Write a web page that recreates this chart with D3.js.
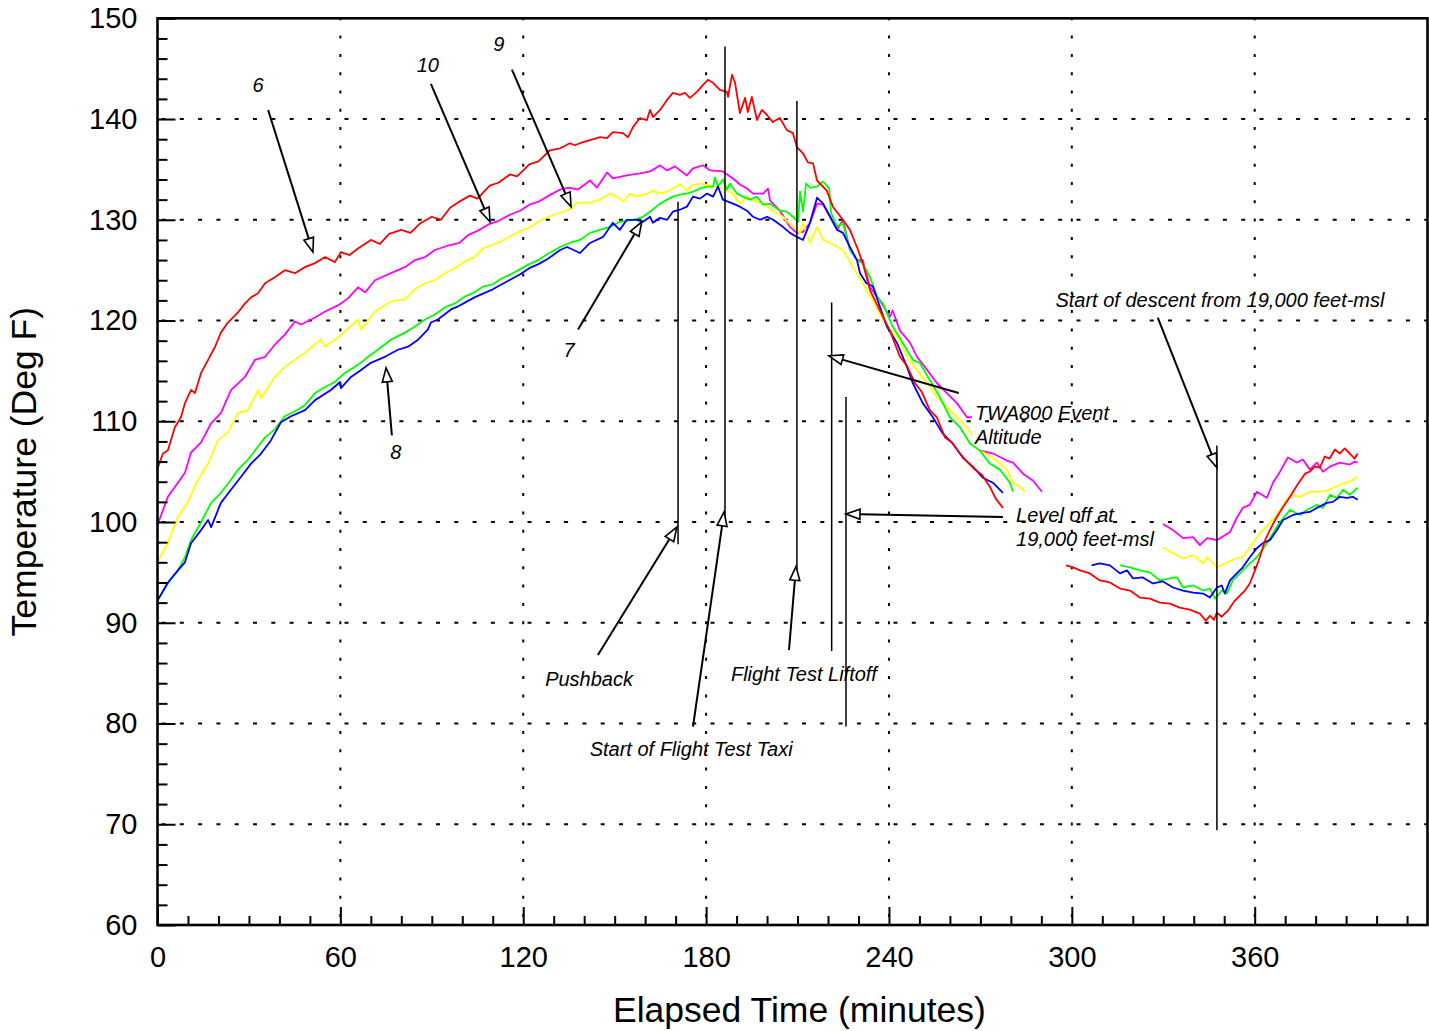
<!DOCTYPE html>
<html><head><meta charset="utf-8">
<script src="https://cdn.jsdelivr.net/npm/d3@7"></script>
<style>
body{margin:0;background:#fff}
svg{display:block}
text{font-family:Arial,"Liberation Sans",Helvetica,sans-serif}
</style>
</head><body>
<svg id="chart" width="1429" height="1031"></svg>
<script>
// ---------- data ----------
const xMajorTicks = [0, 60, 120, 180, 240, 300, 360];
const yMajorTicks = [60, 70, 80, 90, 100, 110, 120, 130, 140, 150];
const xTitle = "Elapsed Time (minutes)";
const yTitle = "Temperature (Deg F)";
const seriesNames = ["6", "10", "9", "7", "8"];
const seriesColors = ["#ff0000", "#ff00ff", "#ffff00", "#00ff00", "#0000ff"];

// [elapsed minutes, temperature degF]; null = gap (hidden by label boxes)
const series6 = [[0,105.3],[1.8,106.8],[3.4,107.1],[5.7,109.4],[7.7,110.4],[9,111.8],[11,113.1],[12.3,112.8],[14.3,114.8],[16.6,116.1],[18.9,117.4],[20.8,118.8],[23.1,119.8],[26.4,120.8],[28.7,121.7],[30.7,122.3],[33,122.7],[35.3,123.7],[38.5,124.3],[41.8,125],[45.1,124.7],[48.4,125.3],[51.7,125.7],[55,126.3],[58.2,125.8],[60.2,126.8],[63,126.5],[66,127.2],[70,128],[73,127.6],[76,128.6],[80,129],[83,128.7],[86,129.6],[90,130.3],[93,130],[96,131.2],[99,131.8],[102.5,132.4],[105,132.1],[109,133.4],[112,133.7],[115.6,134.5],[118,134.3],[122,135.5],[125,135.8],[128.8,136.9],[132.1,137.1],[135.3,137.6],[137,137.4],[138.6,137.6],[141.9,137.9],[145.2,138.2],[147.5,138.1],[149.4,138.7],[152.7,138.6],[154.4,138.2],[156,139.2],[158.3,140.1],[160.6,139.9],[161.6,140.9],[162.6,140.2],[164.9,140.9],[167.2,141.9],[169.1,142.6],[171.4,142.4],[173.1,142.6],[174.7,142.1],[177,142.7],[179,143.4],[180.6,143.9],[182.3,143.6],[184.5,142.9],[186.8,142.7],[187.2,142.2],[188.5,144.4],[189.5,143.6],[191.1,140.6],[192.8,142.1],[193.7,140.7],[195,142.2],[196.7,139.9],[198.3,140.9],[200,140.4],[201.9,139.7],[204.2,140.1],[206.5,138.9],[208.5,138.6],[209.8,137.2],[211.8,136.6],[213.4,135.7],[215.1,135.6],[216.4,133.9],[219.6,132.9],[221.6,131.3],[224.9,130],[227.2,129],[229.5,127.3],[231.4,125.7],[233.8,123],[237,121],[240.3,119],[243.6,116.4],[245.9,115.5],[248.5,113.8],[250.8,112.9],[253.4,111.1],[255.7,110.4],[258.4,108.4],[260.7,107.9],[263.3,106.8],[265.6,106],[268.2,105.2],[270.5,104.7],[273.1,103.5],[275.1,102.3],[277.4,101.4],null,
[298.1,95.7],[300.4,95.5],[302.7,95.2],[305.9,94.9],[309.2,94.2],[312.5,94],[315.8,93.4],[319.1,93.2],[322.3,92.5],[325.6,92.4],[328.9,92],[332.2,91.9],[335.4,91.5],[338.7,91.3],[342,90.9],[344,90.2],[345.3,90.7],[346.6,90.3],[347.6,91],[349.2,90.6],[351.2,91.2],[353.5,92.2],[356.8,93.2],[358.4,93.9],[360.1,95.2],[361.7,96.5],[363.4,98.2],[365,99.2],[366.7,100.2],[369.3,101.5],[371.6,102.5],[373.8,103.6],[376.5,104.8],[378.1,105],[379.7,105.5],[381.4,105.4],[383,106.5],[384.6,106.3],[386.3,107.2],[387.9,106.8],[389.5,107.3],[391.2,106.8],[392.8,106.3],[393.8,106.8]];

const series10 = [[0,99.7],[3.4,102.5],[6.7,103.9],[9,104.9],[11,106.9],[14.3,107.9],[17.6,109.8],[20.8,110.8],[24.1,113.1],[28.7,114.4],[32,116.1],[35.3,116.4],[38.5,117.6],[41.8,118.6],[45.1,119.9],[47.1,119.6],[51.7,120.3],[55,120.9],[59.2,121.5],[62.5,122.2],[65.8,123.3],[68.1,122.8],[71.4,124],[76.6,124.7],[81.2,125.3],[84.5,126],[87.8,126.3],[91,127],[95,127.4],[99,127.7],[102,128.5],[105,128.9],[109,129.6],[112,129.9],[115.6,130.5],[119,130.9],[122,131.5],[125,131.8],[129,132.5],[132.1,133],[135,133.2],[138,133],[141.9,133.9],[144.2,133.2],[147.5,134.7],[149.4,134.1],[154,134.4],[158.3,134.6],[161.6,134.8],[164.9,135.4],[167.2,134.9],[169.8,135.3],[173.7,134.4],[175.7,135.1],[179,135.4],[181.3,134.9],[185.5,134.8],[188.8,134.1],[191.1,133.5],[193.4,133.1],[195.4,132.6],[198.7,132.6],[200.3,133.1],[201,131.9],[204.2,130.9],[207.5,129.3],[209.8,128.7],[211.8,128.8],[214.1,129.7],[216.4,131.6],[218.4,131.5],[220.7,130.3],[223,129],[224.9,130],[227.2,127],[229.5,126],[231.4,126],[233.8,123.3],[237,122],[240.3,120.4],[241.2,121],[243.6,119],[246.9,117.8],[249.2,116.4],[252.5,115.1],[255.7,113.8],[259,112.8],[262.3,111.8],[265.6,110.4],[267.2,110.4],null,
[269.8,107.1],[274.1,106.8],[278.7,106.1],[280.7,105.9],[284,104.8],[287.3,104.1],[290.2,103],null,
[329.9,99.8],[333.2,99.2],[336.5,98.4],[339.8,98.5],[342,97.7],[344.4,98.4],[347.6,98.2],[349.2,98.5],[351.9,99],[354.1,100.4],[356.1,101.4],[358.4,101.7],[360.7,103],[364,102.4],[366,103.9],[368.3,105],[370.9,106.4],[373.8,105.9],[375.8,106.2],[378.1,105.2],[380.4,105.9],[382.4,105],[384.7,105.5],[387.9,105.9],[391.2,105.7],[392.8,106],[393.8,105.9]];

const series9 = [[0,96],[3.4,97.9],[6.7,100.5],[10,102],[13.3,104.2],[16.6,105.8],[19.8,108.1],[23.1,108.9],[26.4,110.8],[29.7,111.1],[33,113.1],[34,112.3],[38.5,114.4],[41.8,115.4],[45.1,116.1],[48.4,116.8],[53.6,118.1],[55,117.4],[59.2,118.3],[65.8,120.1],[66.8,119.1],[71.4,120.9],[76.6,121.9],[81.2,122.1],[84.5,123.1],[87.8,123.7],[91,124],[94.3,124.7],[97.6,125.2],[101,125.9],[104,126.3],[107,127.2],[110,127.5],[113,127.9],[116,128.4],[119,128.9],[122,129.2],[125,129.8],[128,130.3],[132.1,130.7],[135.3,131],[137.6,131.7],[141.9,131.7],[145.2,132],[148.5,132.6],[150.8,132.3],[152.7,131.8],[155,132.6],[157.3,132.3],[160.6,132.6],[162.6,132.9],[164.9,132.6],[168.1,132.9],[171.4,133.5],[173.7,132.9],[175.7,133.5],[179,133.6],[182.3,133.3],[185.5,133.1],[188.8,132.6],[191.1,131.6],[193.4,132.3],[195.4,131.9],[198.7,131.6],[202,130.9],[205.2,130.3],[208.5,129.3],[210.8,128.7],[211.8,129.7],[214.1,127.7],[216.4,129.3],[218.4,128],[220.7,127.7],[224.9,127],[228.2,125.3],[231.4,123.7],[234.7,122],[237,120.7],[239.3,119.4],[242.6,118.4],[245.9,116.4],[249.2,115.1],[252.5,113.8],[255.7,112.4],[259,111.4],[262.3,110.4],[265.6,109.4],[267.2,108.6],null,
[269.8,107.1],[274.1,106.4],[278.7,105.2],[280.7,103.9],[283,103.5],[284.6,103],null,
[329.9,97.5],[333.2,96.9],[336.5,96.4],[339.8,96.7],[343.1,95.9],[344.4,96.5],[347.6,95.5],[350.9,96],[354.1,96.4],[356.1,96.5],[358.4,97.5],[361.7,98.9],[365,99.9],[368.3,101.2],[371.6,102.7],[374.9,102.5],[378.1,103],[381.4,103],[384.6,103.2],[387.9,103.7],[390.2,103.9],[392.2,104.2],[393.8,104.5]];

const series7 = [[0,92.2],[3.4,93.9],[6.7,95.2],[9,96.5],[11,98.2],[14.3,100],[17.6,101.9],[20.8,102.9],[24.1,104.2],[26.4,105.2],[29.7,106.2],[33,107.5],[35.3,108.4],[38.5,109.2],[41.8,110.5],[45.1,111],[48.4,111.6],[51.7,112.8],[55,113.4],[58.2,113.9],[61.5,114.8],[65.8,115.6],[69.1,116.4],[72.3,117.1],[76.6,118.1],[81.2,118.8],[84.5,119.4],[87.8,120.1],[91,120.6],[94.3,121.3],[97.6,121.7],[101,122.4],[104,122.8],[107,123.4],[110,123.6],[113,124.2],[116,124.6],[119,125.1],[122,125.6],[125,126],[128,126.6],[132.1,127.3],[135.3,127.7],[138.6,128],[141.9,128.7],[145.2,129],[148.5,129.3],[151.7,129.8],[156,130],[159.3,130.3],[161.6,130.8],[164.9,131.6],[167.2,132],[169.1,132.3],[171.4,132.5],[173.7,132.6],[175.7,132.8],[178,133.1],[180.3,133.3],[182.3,133.3],[182.9,134.2],[183.9,133.3],[185.5,134],[186.8,133],[187.8,133.6],[190.1,132.6],[192.1,132.3],[194.4,132],[196.7,132.3],[198.7,131.5],[201,131.6],[204.2,130.9],[206.5,130.8],[208.5,130.3],[210.2,129.8],[210.8,132.8],[211.8,130.8],[212.8,133.6],[214.1,133.2],[216.4,133.3],[218.4,133.8],[220.4,133.1],[221,130.7],[223,129.3],[224.9,129.7],[227.2,127],[229.5,126],[231.4,125.7],[233.8,124.3],[236.2,122.3],[238,121.7],[241.2,119.4],[244.5,117.8],[247.8,116.1],[250.1,115.8],[253.4,114.1],[256.7,112.4],[260,110.4],[263.3,109.4],[266.6,107.8],[269.8,107.1],[273.1,105.8],[276.4,105.2],[279.7,103.9],[280.7,103],null,
[315.8,95.7],[319.1,95.5],[322.3,95.2],[325.6,95],[328.9,94.2],[332.2,94.4],[334.5,94.5],[336.5,93.5],[339.8,93.7],[343.1,93.2],[345.3,93.4],[347,92.4],[349.2,93.2],[350.9,92.9],[352.8,94.2],[355.1,94.9],[358.4,95.9],[360.7,96.5],[364,97.9],[366,98.9],[368.3,100],[371.6,101.2],[374.9,100.7],[377.1,101.2],[380.4,101.7],[382.4,101.4],[384.7,102.7],[387,102.4],[389,103.2],[391.2,102.7],[393.8,103.4]];

const series8 = [[0,92.2],[3.4,94],[6.7,95.2],[9,96],[11,97.9],[14.3,99.2],[16.6,100.2],[17.6,99.5],[20.8,101.9],[24.1,103.2],[27.4,104.5],[30.7,105.8],[34,106.8],[37.2,108.1],[40.5,109.9],[43.8,110.5],[48.4,111.1],[51.7,112.1],[56.9,113.1],[59.9,113.9],[60.2,113.3],[63.5,114.4],[66.8,115.1],[70,115.8],[74.6,116.4],[78.9,117.1],[82.2,117.4],[85.5,118.1],[88.7,119.1],[89.7,119.8],[92,120.1],[96.3,121.1],[98.6,121.4],[101,121.8],[104,122.3],[107,122.7],[110,123.1],[113,123.6],[116,124.1],[119,124.6],[122,125.2],[125,125.6],[128,126.1],[132.1,127],[134.4,127.3],[138.6,126.7],[141.9,127.7],[146.2,128.3],[149.4,129.7],[151.7,129],[154,130],[157.3,130],[159.3,129.8],[161.6,130.3],[162.6,129.7],[164.9,130.2],[167.2,130],[169.1,130.8],[171.4,131],[173.7,131.3],[175.7,132.3],[178,132.1],[180.3,132.6],[182.3,132.3],[183.9,133.3],[185.5,132],[188.8,131.6],[191.1,131.3],[193.4,130.9],[195.4,130.3],[197.7,130],[200,130.3],[202,130],[205.2,129.3],[207.5,128.7],[209.8,128.3],[211.8,128],[214.1,129.7],[216.4,132.2],[218.4,131.6],[220.7,130.3],[223,129],[224.9,128.7],[227.2,127.3],[229.5,126],[230.5,124.7],[232.6,123.7],[234.7,123.4],[237,121.4],[239.3,119.4],[242.6,117.8],[245.9,115.4],[247.8,113.8],[251.1,111.8],[254.4,110.4],[257.6,108.8],[260.9,107.8],[264.2,106.4],[267.5,105.5],[270.8,104.4],[274.1,103.9],[277.4,102.9],null,
[306.5,95.7],[309.2,95.9],[312.5,95.7],[315.8,94.9],[318.1,95.2],[320.1,94.4],[323.3,94.5],[326.6,93.9],[329.9,94.1],[333.2,93.5],[336.5,93.2],[339.8,93],[343.1,92.9],[345.3,92.5],[347.6,93.5],[349.2,93.7],[350.2,92.9],[351.9,94.2],[354.1,94.9],[356.1,95.5],[358.4,96.5],[360.7,97.4],[362.7,97.9],[365,98.2],[367.3,99.2],[369.3,100.2],[372.6,100.7],[375.8,100.9],[378.1,101],[380.4,101.4],[383.7,101.9],[385.7,102],[387.9,102.5],[390.2,102.4],[392.2,102.5],[393.8,102.2]];

// event marker lines: [minutes, topTemp, bottomTemp]
const eventLines = [[170.8,131.8,97.8],[186.2,147.2,100.2],[209.8,141.8,94.7],[221.2,121.8,87.2],[225.9,112.4,79.7],[347.6,107.6,69.4]];

// annotations: lines of text, text anchor point, text-anchor, arrow from -> to (data units)
const annotations = [
  {lines:["6"], at:[33.0,143.4], anchor:"middle", from:[36.3,140.9], to:[51.0,126.8]},
  {lines:["10"], at:[88.7,145.4], anchor:"middle", from:[89.7,143.5], to:[109.1,129.8]},
  {lines:["9"], at:[112.0,147.4], anchor:"middle", from:[116.3,144.9], to:[135.7,131.3]},
  {lines:["7"], at:[135.0,117.1], anchor:"middle", from:[138.0,119.1], to:[158.9,129.8]},
  {lines:["8"], at:[78.2,107.0], anchor:"middle", from:[76.9,108.6], to:[75.0,115.3]},
  {lines:["Pushback"], at:[141.6,84.4], anchor:"middle", from:[144.5,86.8], to:[170.4,99.5]},
  {lines:["Start of Flight Test Taxi"], at:[175.1,77.5], anchor:"middle", from:[175.7,79.7], to:[185.9,101.0]},
  {lines:["Flight Test Liftoff"], at:[212.1,84.9], anchor:"middle", from:[207.2,87.3], to:[209.5,95.6]},
  {lines:["TWA800 Event","Altitude"], at:[268.2,110.8], anchor:"start", from:[262.9,112.8], to:[220.3,116.5]},
  {lines:["Level off at","19,000 feet-msl"], at:[281.7,100.7], anchor:"start", from:[277.4,100.5], to:[225.9,100.8]},
  {lines:["Start of descent from 19,000 feet-msl"], at:[348.6,122.0], anchor:"middle", from:[328.2,120.3], to:[347.6,105.4]}
];

// ---------- drawing ----------
const svg = d3.select("#chart");
const L = 157.5, R = 1427.5, T = 18.3, B = 925;
const x = d3.scaleLinear().domain([0, 416.7]).range([L, R]);
const y = d3.scaleLinear().domain([60, 150]).range([B, T]);

// grid
const grid = svg.append("g");
grid.selectAll("line.h").data(yMajorTicks.filter(v => v > 60 && v < 150)).enter().append("line")
  .attr("x1", L).attr("x2", R).attr("y1", d => y(d)).attr("y2", d => y(d))
  .attr("stroke", "#000").attr("stroke-width", 2).attr("stroke-dasharray", "4,14.3").attr("stroke-dashoffset", -4);
grid.selectAll("line.v").data(xMajorTicks.filter(v => v > 0)).enter().append("line")
  .attr("y1", B).attr("y2", T).attr("x1", d => x(d)).attr("x2", d => x(d))
  .attr("stroke", "#000").attr("stroke-width", 2).attr("stroke-dasharray", "3,15.3").attr("stroke-dashoffset", -8);

// series
const allSeries = [series10, series9, series7, series8, series6];
const allColors = [seriesColors[1], seriesColors[2], seriesColors[3], seriesColors[4], seriesColors[0]];
const line = d3.line().defined(d => d !== null).x(d => x(d[0])).y(d => y(d[1]));
svg.append("g").selectAll("path").data(allSeries).enter().append("path")
  .attr("d", line).attr("fill", "none")
  .attr("stroke", (d, i) => allColors[i]).attr("stroke-width", 1.8).attr("stroke-linejoin", "round");

// event lines
svg.append("g").selectAll("line").data(eventLines).enter().append("line")
  .attr("x1", d => x(d[0])).attr("x2", d => x(d[0]))
  .attr("y1", d => y(d[1])).attr("y2", d => y(d[2]))
  .attr("stroke", "#000").attr("stroke-width", 1.5);

// annotations
const ag = svg.append("g");
annotations.forEach(a => {
  const x1 = x(a.from[0]), y1 = y(a.from[1]), x2 = x(a.to[0]), y2 = y(a.to[1]);
  const ang = Math.atan2(y2 - y1, x2 - x1);
  const len = 14, hw = 5;
  const bx = x2 - len * Math.cos(ang), by = y2 - len * Math.sin(ang);
  ag.append("line").attr("x1", x1).attr("y1", y1).attr("x2", bx).attr("y2", by)
    .attr("stroke", "#000").attr("stroke-width", 2);
  const px = -Math.sin(ang) * hw, py = Math.cos(ang) * hw;
  ag.append("path")
    .attr("d", `M${x2},${y2}L${bx + px},${by + py}L${bx - px},${by - py}Z`)
    .attr("fill", "#fff").attr("stroke", "#000").attr("stroke-width", 1.6).attr("stroke-linejoin", "miter");
  a.lines.forEach((t, i) => {
    ag.append("text").attr("x", x(a.at[0])).attr("y", y(a.at[1]) + i * 24)
      .attr("dy", "0.35em").attr("text-anchor", a.anchor)
      .attr("font-size", 20).attr("font-style", "italic").attr("fill", "#000").text(t);
  });
});

// ticks (inward)
const axX = svg.append("g").attr("transform", `translate(0,${B})`);
axX.call(d3.axisBottom(x).tickValues(d3.range(10, 417, 10).filter(v => v % 60 !== 0)).tickSize(-9).tickFormat(""));
const axX2 = svg.append("g").attr("transform", `translate(0,${B})`);
axX2.call(d3.axisBottom(x).tickValues(xMajorTicks).tickSize(-18).tickPadding(30).tickFormat(d3.format("d")));
const axY = svg.append("g").attr("transform", `translate(${L},0)`);
axY.call(d3.axisLeft(y).tickValues(d3.range(62, 150, 2).filter(v => v % 10 !== 0)).tickSize(-10).tickFormat(""));
const axY2 = svg.append("g").attr("transform", `translate(${L},0)`);
axY2.call(d3.axisLeft(y).tickValues(yMajorTicks).tickSize(-18).tickPadding(20).tickFormat(d3.format("d")));
[axX, axX2, axY, axY2].forEach(g => {
  g.select(".domain").remove();
  g.selectAll(".tick line").attr("stroke", "#000").attr("stroke-width", 2);
  g.selectAll(".tick text").attr("font-size", 29).attr("fill", "#000")
    .attr("font-family", "Arial, 'Liberation Sans', sans-serif");
});
axX2.selectAll(".tick text").attr("dy", "0.71em").attr("y", 21);

// frame
svg.append("rect").attr("x", L).attr("y", T).attr("width", R - L).attr("height", B - T)
  .attr("fill", "none").attr("stroke", "#000").attr("stroke-width", 2.6);

// titles
svg.append("text").attr("x", (L + R) / 2 + 7).attr("y", 1022).attr("text-anchor", "middle")
  .attr("font-size", 35.5).attr("fill", "#000").text(xTitle);
svg.append("text").attr("transform", `translate(36,${(T + B) / 2})rotate(-90)`).attr("text-anchor", "middle")
  .attr("font-size", 35.5).attr("fill", "#000").text(yTitle);
</script>
</body></html>
